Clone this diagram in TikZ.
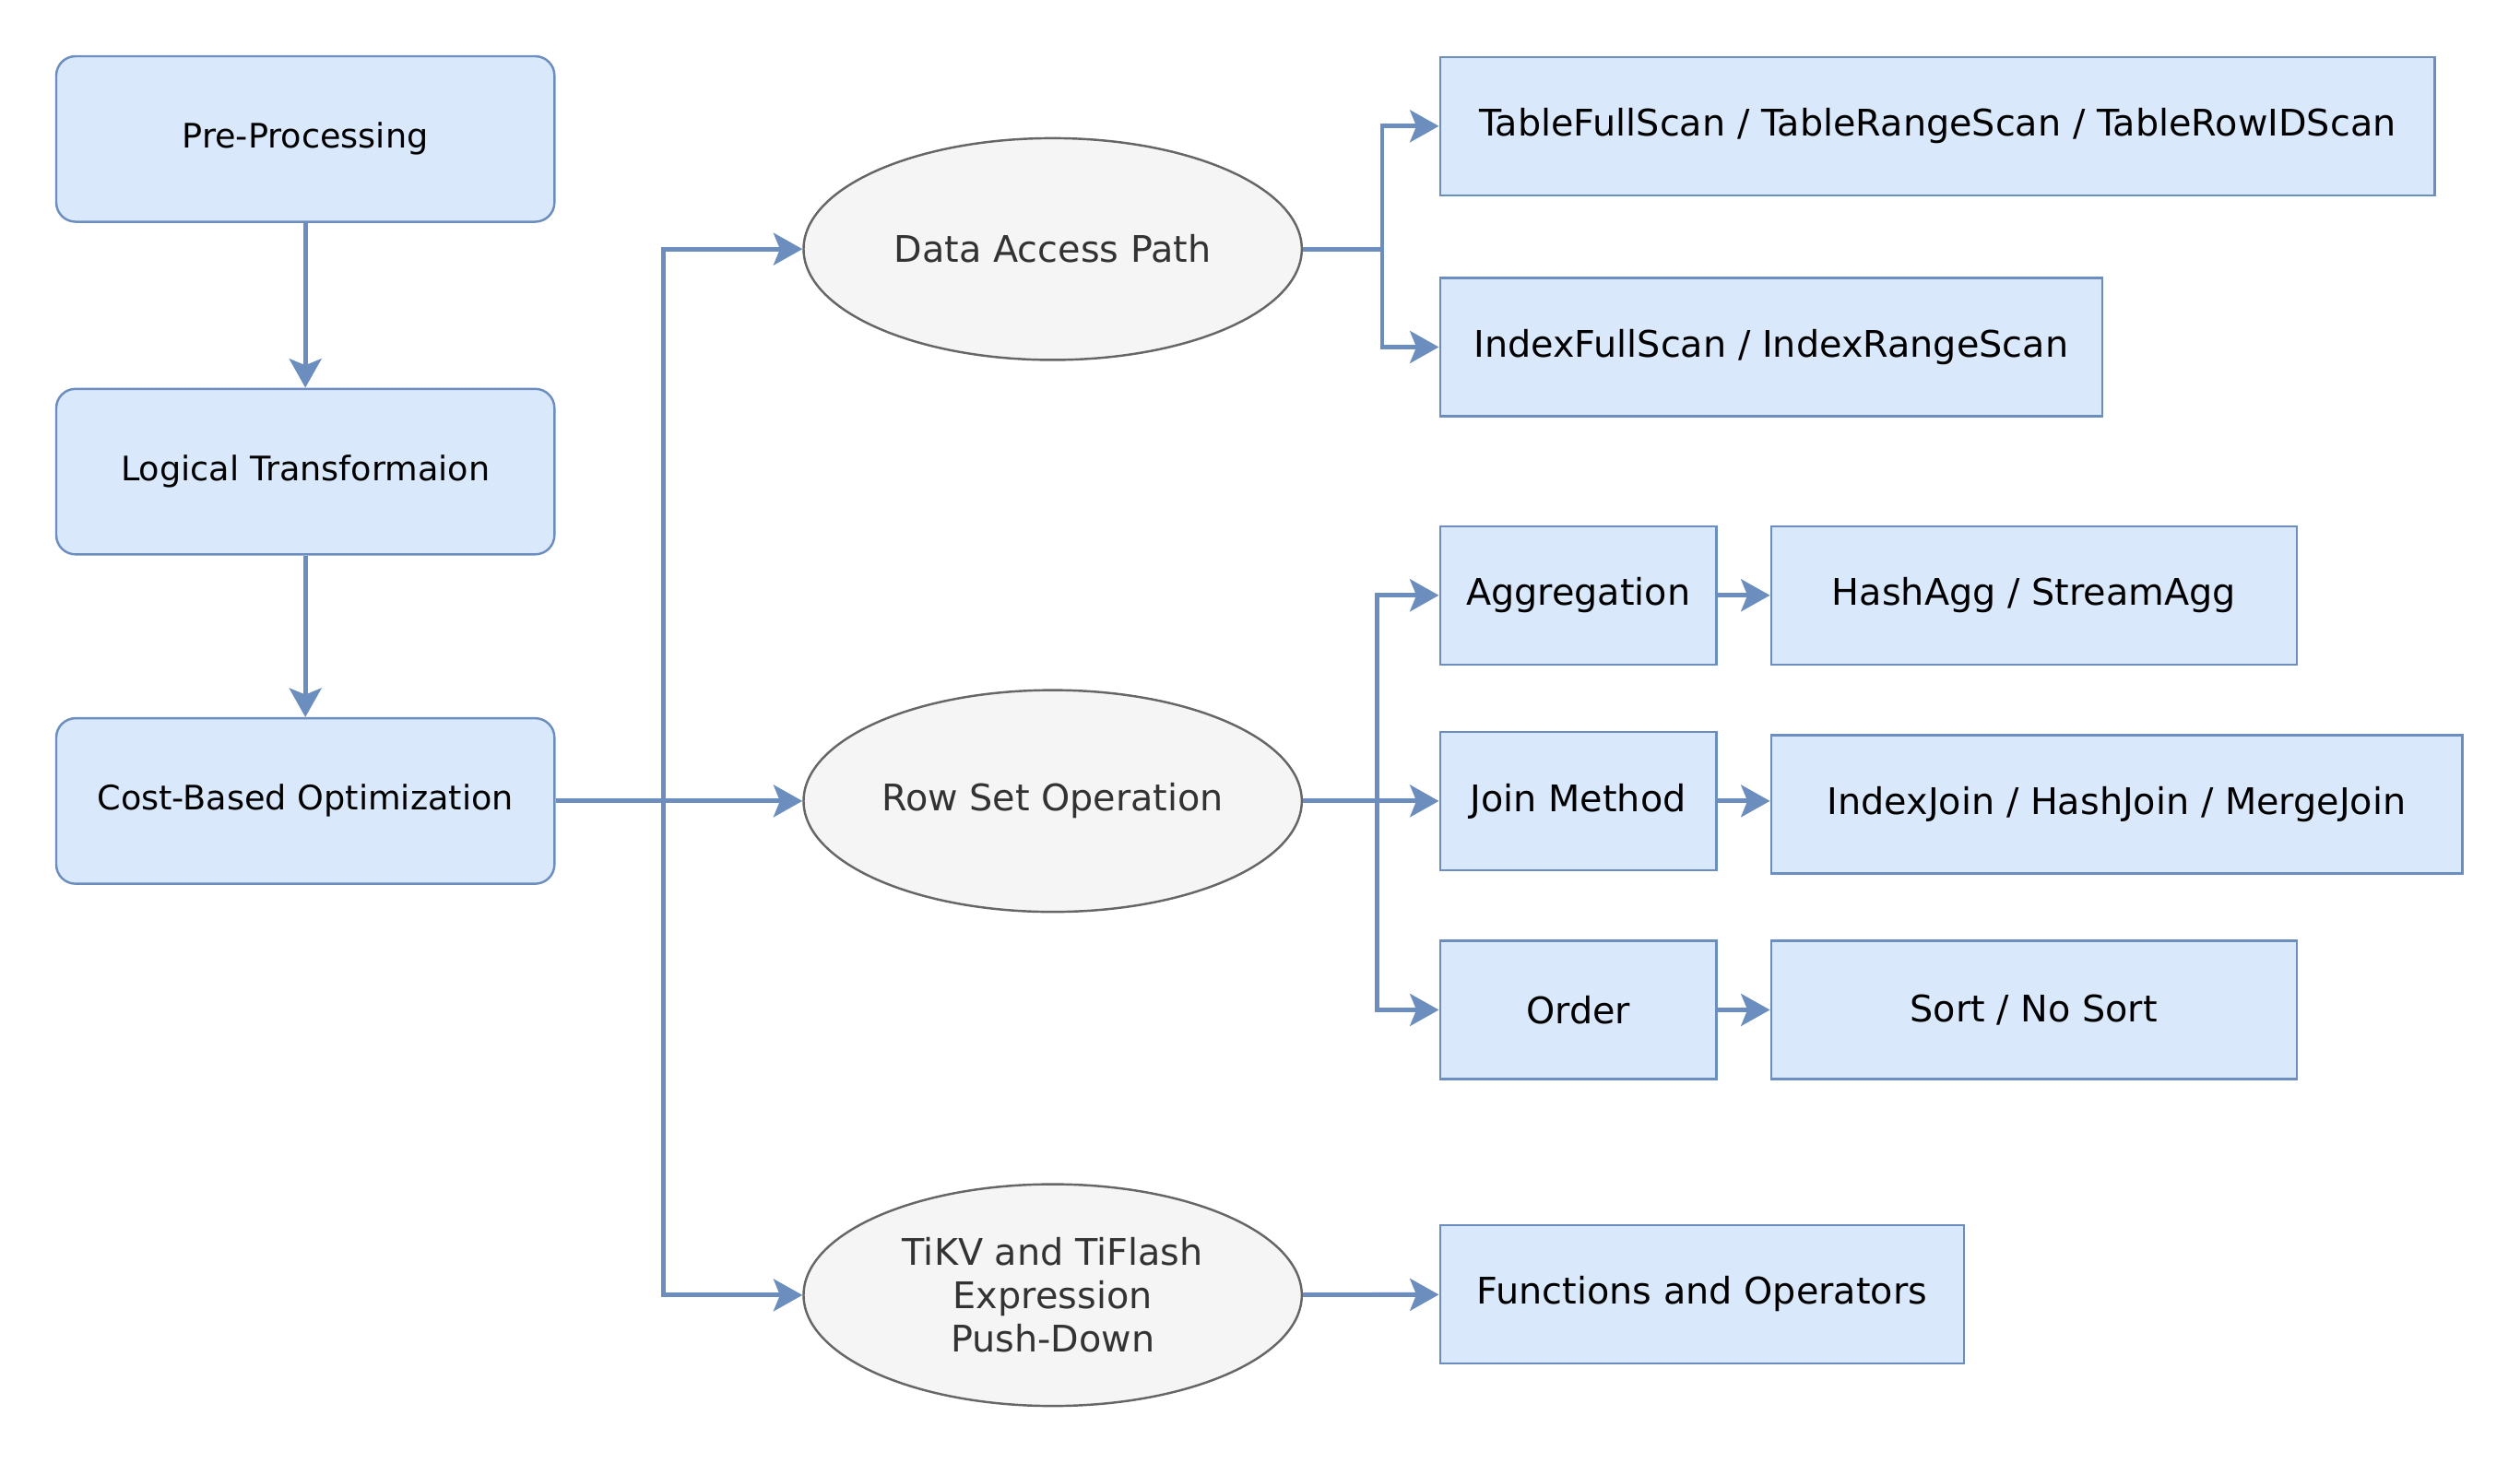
\documentclass[tikz,border=0pt]{standalone}
\usepackage{fontspec}
\setmainfont{DejaVu Sans}
\usetikzlibrary{arrows.meta,shapes.geometric}
\definecolor{boxfill}{HTML}{DAE8FC}
\definecolor{boxline}{HTML}{6C8EBF}
\definecolor{ovalfill}{HTML}{F5F5F5}
\definecolor{ovalline}{HTML}{666666}
\definecolor{ovaltext}{HTML}{333333}
\begin{document}
\begin{tikzpicture}[x=1pt, y=-1pt,
  stage/.style={draw=boxline, fill=boxfill, line width=1.4pt, rounded corners=12pt,
    minimum width=310pt, minimum height=103pt, inner sep=0pt, font=\fontsize{21}{25}\selectfont},
  oval/.style={draw=ovalline, fill=ovalfill, line width=1.4pt, ellipse, minimum width=310pt,
    minimum height=138pt, inner sep=0pt, text=ovaltext, align=center, font=\fontsize{22.8}{27}\selectfont},
  leaf/.style={draw=boxline, fill=boxfill, line width=1.4pt, minimum height=86pt, inner sep=0pt,
    font=\fontsize{22.8}{27}\selectfont},
  link/.style={draw=boxline, line width=2.8pt, -{Stealth[length=18pt, width=20pt, inset=4pt]}}]
\useasboundingbox (0,0) rectangle (1568,910.5);
% left column
\node[stage] (pre) at (190,86.5) {Pre-Processing};
\node[stage] (logic) at (190,293.5) {Logical Transformaion};
\node[stage] (cbo) at (190,498.5) {Cost-Based Optimization};
% ellipses
\node[oval] (dap) at (655,155) {Data Access Path};
\node[oval] (ros) at (655,498.5) {Row Set Operation};
\node[oval] (tikv) at (655,806) {TiKV and TiFlash\\Expression\\Push-Down};
% right boxes
\node[leaf, minimum width=619pt] (tscan) at (1205.5,78.5) {TableFullScan / TableRangeScan / TableRowIDScan};
\node[leaf, minimum width=412pt] (iscan) at (1102,216) {IndexFullScan / IndexRangeScan};
\node[leaf, minimum width=172pt] (agg) at (982,370.5) {Aggregation};
\node[leaf, minimum width=172pt] (join) at (982,498.5) {Join Method};
\node[leaf, minimum width=172pt] (order) at (982,628.5) {Order};
\node[leaf, minimum width=327pt] (hashagg) at (1265.5,370.5) {HashAgg / StreamAgg};
\node[leaf, minimum width=430pt] (joins) at (1317,500.5) {IndexJoin / HashJoin / MergeJoin};
\node[leaf, minimum width=327pt] (sort) at (1265.5,628.5) {Sort / No Sort};
\node[leaf, minimum width=326pt] (funcs) at (1059,805.5) {Functions and Operators};
% junctions
\coordinate (bus) at (413,498.5);
\coordinate (dapj) at (860,155);
\coordinate (rosj) at (857,498.5);
% connectors
\path[link] (pre) -- (logic);
\path[link] (logic) -- (cbo);
\path[link] (cbo.east) -- (ros.west);
\path[link] (bus) |- (dap.west);
\path[link] (bus) |- (tikv.west);
\path[link] (dap.east) -- (dapj) |- (tscan.west);
\path[link] (dapj) |- (iscan.west);
\path[link] (ros.east) -- (join.west);
\path[link] (rosj) |- (agg.west);
\path[link] (rosj) |- (order.west);
\path[link] (agg) -- (hashagg);
\path[link] (join.east) -- (join.east -| joins.west);
\path[link] (order) -- (sort);
\path[link] (tikv) -- (funcs);
\end{tikzpicture}
\end{document}
